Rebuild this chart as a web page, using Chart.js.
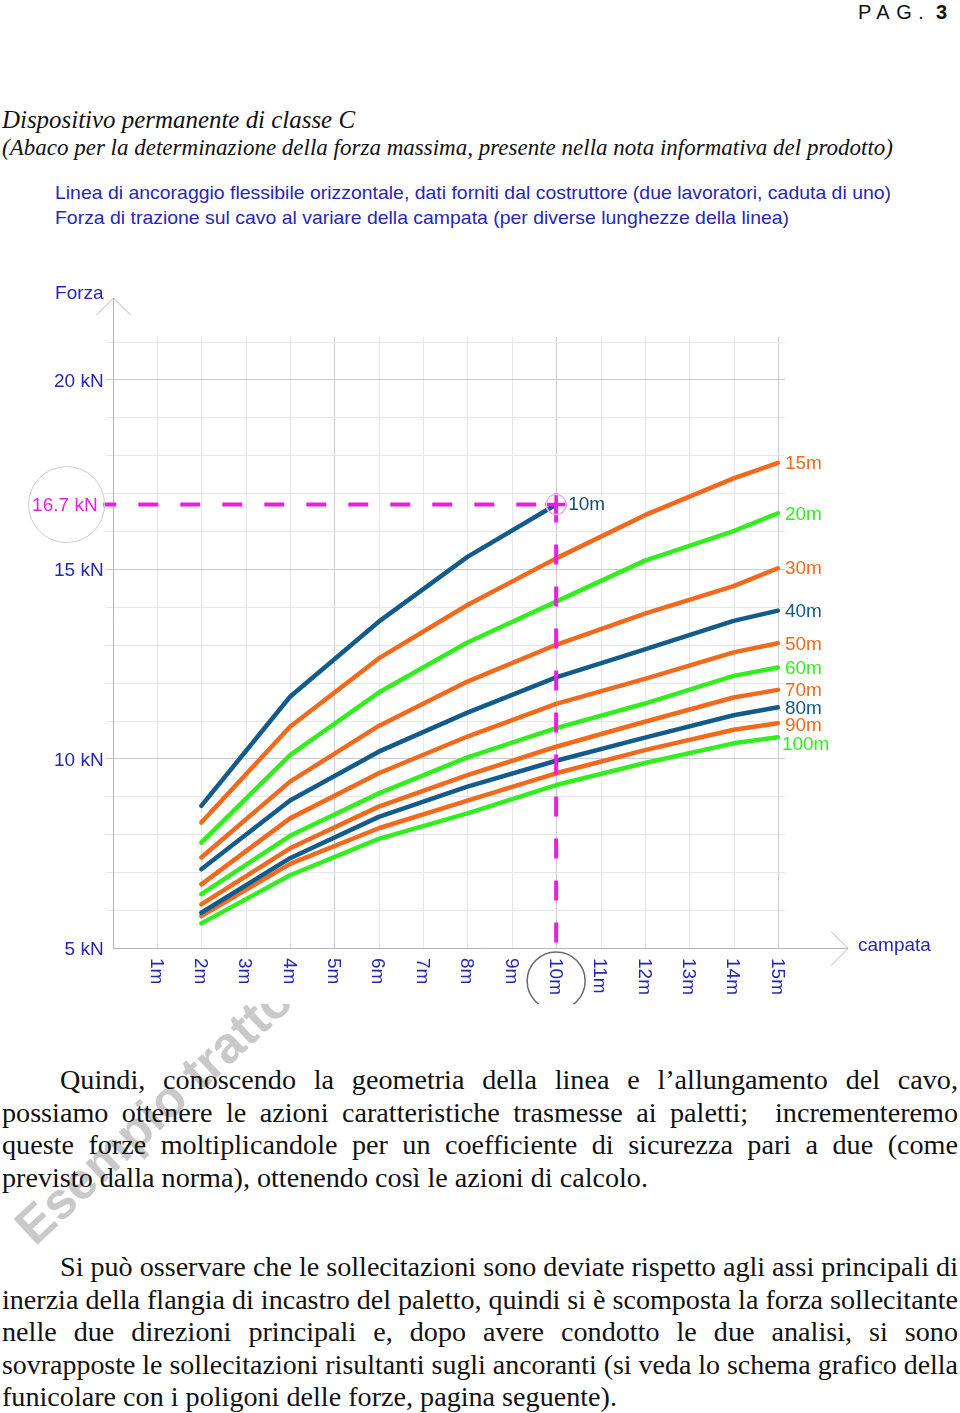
<!DOCTYPE html>
<html lang="it">
<head>
<meta charset="utf-8">
<title>Dispositivo permanente di classe C</title>
<script src="https://cdn.jsdelivr.net/npm/chart.js@4.4.1/dist/chart.umd.min.js"></script>
<style>
  html, body { margin: 0; padding: 0; background: #fff; }
  body { width: 960px; height: 1413px; position: relative; overflow: hidden; }
  .t { position: absolute; white-space: nowrap; line-height: 1; transform-origin: 0 50%; }
  .serif { font-family: "Liberation Serif", "Times New Roman", serif; color: #111; }
  .sans { font-family: "Liberation Sans", Arial, sans-serif; }
  .blue { color: #2727b2; }
  #chartBox { position: absolute; left: 0; top: 260px; width: 960px; height: 744px; z-index: 2; background: #fff; }
  #mark {
    position: absolute; left: 35px; top: 1204px; z-index: 1;
    font: bold 51px "Liberation Sans", Arial, sans-serif; line-height: 1; color: #c9c9c9;
    white-space: nowrap; transform-origin: 0 43px; transform: rotate(-43deg);
  }
  .para { z-index: 3; font-size: 27px; }
</style>
</head>
<body>

<div class="t sans" style="left:858px; top:2px; font-size:20px; letter-spacing:6.5px; color:#111;">PAG.<span style="letter-spacing:0"> <b>3</b></span></div>

<div class="t serif" data-w="353" style="left:2px; top:107px; font-size:26px; font-style:italic;">Dispositivo permanente di classe C</div>
<div class="t serif" data-w="891" style="left:2px; top:136px; font-size:23px; font-style:italic;">(Abaco per la determinazione della forza massima, presente nella nota informativa del prodotto)</div>

<div class="t sans blue" data-w="836" style="left:55px; top:183px; font-size:19px;">Linea di ancoraggio flessibile orizzontale, dati forniti dal costruttore (due lavoratori, caduta di uno)</div>
<div class="t sans blue" data-w="734" style="left:55px; top:208px; font-size:19px;">Forza di trazione sul cavo al variare della campata (per diverse lunghezze della linea)</div>

<div id="chartBox"><canvas id="abaco"></canvas></div>

<div id="mark">Esempio tratto</div>

<div class="t serif para" data-line="j" data-p="1" data-x="60" data-y="1080">Quindi, conoscendo la geometria della linea e l’allungamento del cavo,</div>
<div class="t serif para" data-line="j" data-p="1" data-x="2" data-y="1113">possiamo ottenere le azioni caratteristiche trasmesse ai paletti; &nbsp;incrementeremo</div>
<div class="t serif para" data-line="j" data-p="1" data-x="2" data-y="1145">queste forze moltiplicandole per un coefficiente di sicurezza pari a due (come</div>
<div class="t serif para" data-line="e" data-p="1" data-x="2" data-y="1178" data-w="646">previsto dalla norma), ottenendo così le azioni di calcolo.</div>

<div class="t serif para" data-line="j" data-p="2" data-x="60" data-y="1267">Si può osservare che le sollecitazioni sono deviate rispetto agli assi principali di</div>
<div class="t serif para" data-line="j" data-p="2" data-x="2" data-y="1300">inerzia della flangia di incastro del paletto, quindi si è scomposta la forza sollecitante</div>
<div class="t serif para" data-line="j" data-p="2" data-x="2" data-y="1332">nelle due direzioni principali e, dopo avere condotto le due analisi, si sono</div>
<div class="t serif para" data-line="j" data-p="2" data-x="2" data-y="1365">sovrapposte le sollecitazioni risultanti sugli ancoranti (si veda lo schema grafico della</div>
<div class="t serif para" data-line="e" data-p="2" data-x="2" data-y="1397" data-w="615">funicolare con i poligoni delle forze, pagina seguente).</div>

<script>
// Abaco: forza sul cavo (kN) al variare della campata, per lunghezze della linea

const spans = [2, 4, 6, 8, 10, 12, 14, 15];
const xTickLabels = ['1m', '2m', '3m', '4m', '5m', '6m', '7m', '8m', '9m', '10m', '11m', '12m', '13m', '14m', '15m'];
const yTickValues = [5, 10, 15, 20];
const yTickLabels = ['5 kN', '10 kN', '15 kN', '20 kN'];
const lineLabels = ['10m', '15m', '20m', '30m', '40m', '50m', '60m', '70m', '80m', '90m', '100m'];

const force10m  = [8.75, 11.63, 13.61, 15.32, 16.7];
const force15m  = [8.31, 10.84, 12.64, 14.05, 15.28, 16.42, 17.39, 17.80];
const force20m  = [7.78, 10.09, 11.74, 13.06, 14.14, 15.22, 16.00, 16.47];
const force30m  = [7.39, 9.39, 10.86, 12.03, 13.00, 13.82, 14.55, 15.02];
const force40m  = [7.08, 8.89, 10.18, 11.21, 12.14, 12.88, 13.63, 13.90];
const force50m  = [6.68, 8.42, 9.61, 10.58, 11.44, 12.10, 12.80, 13.04];
const force60m  = [6.42, 7.96, 9.08, 10.03, 10.80, 11.45, 12.18, 12.40];
const force70m  = [6.15, 7.63, 8.73, 9.56, 10.31, 10.97, 11.61, 11.81];
const force80m  = [5.93, 7.37, 8.46, 9.26, 9.94, 10.55, 11.14, 11.35];
const force90m  = [5.84, 7.22, 8.16, 8.89, 9.61, 10.22, 10.76, 10.93];
const force100m = [5.65, 6.92, 7.88, 8.55, 9.30, 9.88, 10.40, 10.56];

const markSpan = 10;
const markForce = 16.7;

const allForces = [force10m, force15m, force20m, force30m, force40m, force50m,
                   force60m, force70m, force80m, force90m, force100m];

const BLUE = '#125b8a', ORANGE = '#f0691c', GREEN = '#33ee1f', MAGENTA = '#ec1ee0';
const lineColors = [BLUE, ORANGE, GREEN, ORANGE, BLUE, ORANGE, GREEN, ORANGE, BLUE, ORANGE, GREEN];
const TEXT_BLUE = '#2727b2';
const FONT = '"Liberation Sans", Arial, sans-serif';

// ---- text fitting for the page text ----
function layoutText() {
    document.querySelectorAll('[data-w]:not(.para)').forEach(el => {
        const nat = el.getBoundingClientRect().width;
        el.style.transform = `scaleX(${(+el.dataset.w / nat).toFixed(4)})`;
    });

    const paras = {};
    document.querySelectorAll('.para').forEach(el => {
        (paras[el.dataset.p] = paras[el.dataset.p] || []).push(el);
    });
    Object.values(paras).forEach(lines => {
        const last = lines.find(l => l.dataset.line === 'e');
        const s = +last.dataset.w / last.getBoundingClientRect().width;
        lines.forEach(el => {
            const fs = parseFloat(getComputedStyle(el).fontSize);
            el.style.left = el.dataset.x + 'px';
            el.style.top = (+el.dataset.y - fs / 2) + 'px';
            let k = s;
            if (el.dataset.line === 'j') {
                const target = 958 - +el.dataset.x;
                const nat = el.getBoundingClientRect().width;
                const spaces = (el.textContent.match(/[ \u00a0]/g) || []).length;
                if (nat * s < target) {
                    el.style.wordSpacing = ((target / s - nat) / spaces).toFixed(3) + 'px';
                } else {
                    k = target / nat;
                }
            }
            el.style.transform = `scaleX(${k.toFixed(4)})`;
        });
    });
}
layoutText();

// ---- chart plugins ----
const gridPlugin = {
    id: 'abacoGrid',
    beforeDatasetsDraw(chart) {
        const { ctx, chartArea } = chart;
        const x = chart.scales.x, y = chart.scales.y;
        const x0 = x.getPixelForValue(0), y0 = y.getPixelForValue(5);
        ctx.save();
        ctx.lineWidth = 1;

        // vertical grid, one per metre
        xTickLabels.forEach((lab, i) => {
            const m = i + 1;
            const px = Math.round(x.getPixelForValue(m)) + 0.5;
            ctx.strokeStyle = m % 5 === 0 ? '#cbcbd5' : '#e6e6ec';
            ctx.beginPath();
            ctx.moveTo(px, y0);
            ctx.lineTo(px, y.getPixelForValue(21.12));
            ctx.stroke();
        });
        // horizontal grid, one per kN
        for (let v = 6; v <= 21; v++) {
            const py = Math.round(y.getPixelForValue(v)) + 0.5;
            ctx.strokeStyle = v % 5 === 0 ? '#cbcbd5' : '#e6e6ec';
            ctx.beginPath();
            ctx.moveTo(x.getPixelForValue(-0.17), py);
            ctx.lineTo(x.getPixelForValue(15.16), py);
            ctx.stroke();
        }

        // axes with open arrows
        ctx.strokeStyle = '#b2b2c2';
        const ax = Math.round(x0) + 0.5, ay = Math.round(y0) + 0.5;
        ctx.beginPath();
        ctx.moveTo(ax, ay); ctx.lineTo(ax, chartArea.top);
        ctx.moveTo(ax - 17, chartArea.top + 17); ctx.lineTo(ax, chartArea.top); ctx.lineTo(ax + 17, chartArea.top + 17);
        ctx.moveTo(ax, ay); ctx.lineTo(chartArea.right, ay);
        ctx.moveTo(chartArea.right - 17, ay - 17); ctx.lineTo(chartArea.right, ay); ctx.lineTo(chartArea.right - 17, ay + 17);
        ctx.stroke();
        ctx.restore();
    }
};

const labelPlugin = {
    id: 'abacoLabels',
    afterDatasetsDraw(chart) {
        const { ctx, chartArea } = chart;
        const x = chart.scales.x, y = chart.scales.y;
        const x0 = x.getPixelForValue(0), y0 = y.getPixelForValue(5);
        ctx.save();
        ctx.font = `19px ${FONT}`;
        ctx.textBaseline = 'middle';

        // rotated span labels
        ctx.fillStyle = TEXT_BLUE;
        ctx.textAlign = 'left';
        xTickLabels.forEach((lab, i) => {
            ctx.save();
            ctx.translate(x.getPixelForValue(i + 1) - 1, y0 + 10);
            ctx.rotate(Math.PI / 2);
            ctx.fillText(lab, 0, 0);
            ctx.restore();
        });

        // axis titles
        ctx.textAlign = 'right';
        ctx.fillText('Forza', x0 - 9, chartArea.top - 4);
        ctx.textAlign = 'left';
        ctx.fillText('campata', chartArea.right + 10, y0 - 2);

        // 16.7 kN reading
        const my = y.getPixelForValue(markForce), mx = x.getPixelForValue(markSpan);
        ctx.fillStyle = MAGENTA;
        ctx.textAlign = 'right';
        ctx.fillText(markForce + ' kN', x0 - 15, my + 1);

        ctx.lineWidth = 1;
        ctx.strokeStyle = '#cdcdcd';
        ctx.beginPath(); ctx.arc(x0 - 46, my, 38, 0, Math.PI * 2); ctx.stroke();
        ctx.strokeStyle = '#e6b8e3';
        ctx.lineWidth = 1.5;
        ctx.beginPath(); ctx.arc(mx, my, 10, 0, Math.PI * 2); ctx.stroke();
        ctx.strokeStyle = '#6a6a6a';
        ctx.beginPath(); ctx.arc(mx, y0 + 33, 29, 0, Math.PI * 2); ctx.stroke();

        // curve names at the end of each curve
        ctx.textAlign = 'left';
        allForces.forEach((vals, i) => {
            const lastSpan = spans[vals.length - 1];
            let px = x.getPixelForValue(lastSpan) + 7;
            let py = y.getPixelForValue(vals[vals.length - 1]) + 1;
            if (i === 0) { px += 5; py -= 1; ctx.fillStyle = '#1d4c6e'; }
            else ctx.fillStyle = lineColors[i];
            if (lineLabels[i] === '90m') py += 2;
            if (lineLabels[i] === '100m') { py += 6; px -= 3; }
            ctx.fillText(lineLabels[i], px, py);
        });
        ctx.restore();
    }
};

// ---- datasets ----
const curveSets = allForces.map((vals, i) => ({
    label: lineLabels[i],
    data: vals.map((v, j) => ({ x: spans[j], y: v })),
    borderColor: lineColors[i],
    borderWidth: 4.5,
    borderCapStyle: 'round',
    borderJoinStyle: 'round',
    pointRadius: 0,
    tension: 0,
    order: 2
}));

const markSets = [
    {
        label: 'lettura orizzontale',
        data: [{ x: -0.21, y: markForce }, { x: markSpan, y: markForce }],
        borderColor: MAGENTA, borderWidth: 4, borderDash: [20, 22], borderDashOffset: 7,
        pointRadius: 0, clip: false, order: 1
    },
    {
        label: 'lettura verticale',
        data: [{ x: markSpan, y: markForce }, { x: markSpan, y: 5 }],
        borderColor: MAGENTA, borderWidth: 4, borderDash: [20, 22], borderDashOffset: 2,
        pointRadius: 0, clip: false, order: 1
    },
    {
        label: 'punto',
        data: [{ x: markSpan, y: markForce }],
        showLine: false, pointStyle: 'cross', pointRadius: 11, pointBorderWidth: 3.5,
        pointBorderColor: MAGENTA, borderColor: MAGENTA, clip: false, order: 0
    }
];

new Chart(document.getElementById('abaco'), {
    type: 'line',
    data: { datasets: curveSets.concat(markSets) },
    options: {
        responsive: true,
        maintainAspectRatio: false,
        animation: false,
        layout: { padding: { top: 38, right: 112, left: 0, bottom: 0 } },
        plugins: { legend: { display: false }, tooltip: { enabled: false } },
        scales: {
            x: {
                type: 'linear', min: 0, max: 16.58,
                grid: { display: false }, border: { display: false },
                ticks: { display: false },
                afterFit: s => { s.height = 56; }
            },
            y: {
                type: 'linear', min: 5, max: 22.15,
                grid: { display: false, drawTicks: false }, border: { display: false },
                afterFit: s => { s.width = 112.6; },
                ticks: {
                    stepSize: 1, autoSkip: false, padding: 9, labelOffset: 2,
                    color: TEXT_BLUE, font: { family: FONT, size: 19 },
                    callback: v => {
                        const k = yTickValues.indexOf(v);
                        return k >= 0 ? yTickLabels[k] : '';
                    }
                }
            }
        }
    },
    plugins: [gridPlugin, labelPlugin]
});
</script>
</body>
</html>
